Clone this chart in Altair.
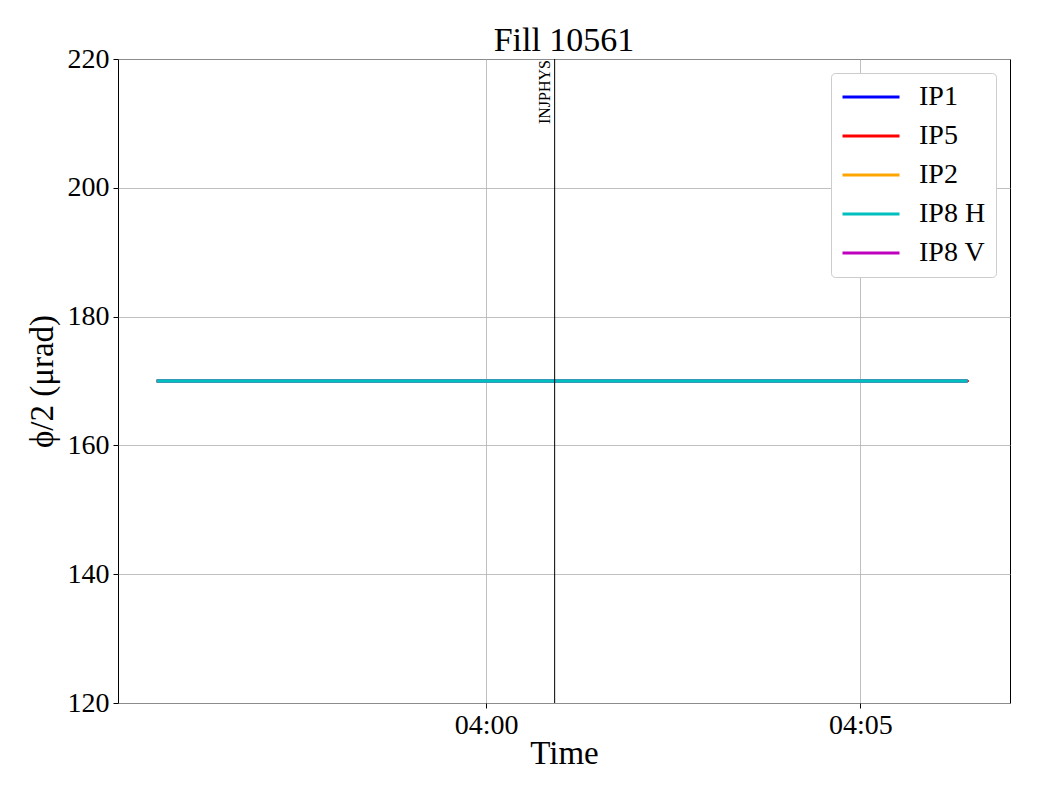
import altair as alt
import pandas as pd

series = ["IP1", "IP5", "IP2", "IP8 H", "IP8 V"]
colors = ["#0000ff", "#ff0000", "#ffa500", "#00bfbf", "#bf00bf"]
widths = [2.1, 2.1, 3.5, 3.5, 3.5]
draw_order = ["IP1", "IP5", "IP2", "IP8 V", "IP8 H"]

start_times = ["2024-01-01T03:55:36", "2024-01-01T03:55:36", "2024-01-01T03:55:36",
               "2024-01-01T03:55:36", "2024-01-01T03:55:36"]
end_times = ["2024-01-01T04:06:26", "2024-01-01T04:06:27", "2024-01-01T04:06:26",
             "2024-01-01T04:06:26", "2024-01-01T04:06:26"]
values = [170.0, 170.0, 170.0, 170.0, 170.0]

event_time = ["2024-01-01T04:00:55"]
event_label = ["INJPHYS"]

rows = []
for s, t0, t1, v in zip(series, start_times, end_times, values):
    rows.append({"series": s, "time": t0, "value": v})
    rows.append({"series": s, "time": t1, "value": v})
df = pd.DataFrame(rows)
ev = pd.DataFrame({"time": event_time, "label": event_label})
width_of = dict(zip(series, widths))

FONT = "Liberation Serif"

xscale = alt.Scale(domain=[alt.DateTime(year=2024, month=1, date=1, hours=3, minutes=55, seconds=5),
                           alt.DateTime(year=2024, month=1, date=1, hours=4, minutes=7, seconds=0)])
xaxis = alt.Axis(title="Time", format="%H:%M",
                 values=[alt.DateTime(year=2024, month=1, date=1, hours=4, minutes=0),
                         alt.DateTime(year=2024, month=1, date=1, hours=4, minutes=5)],
                 labelFontSize=28, titleFontSize=33, titlePadding=-2, labelPadding=3,
                 tickSize=5, grid=True)
yscale = alt.Scale(domain=[120, 220], nice=False, zero=False)
yaxis = alt.Axis(title="ϕ/2 (μrad)", values=[120, 140, 160, 180, 200, 220],
                 labelFontSize=28, titleFontSize=33, titlePadding=8, labelPadding=4,
                 tickSize=5, grid=True)

color = alt.Color("series:N", scale=alt.Scale(domain=series, range=colors),
                  legend=alt.Legend(title=None, orient="none", legendX=713, legendY=14,
                                    labelFontSize=28, labelFont=FONT,
                                    symbolType="stroke", symbolSize=3249,
                                    symbolStrokeWidth=3, labelOffset=18,
                                    clipHeight=28, rowPadding=11, padding=10,
                                    cornerRadius=4, strokeColor="#cccccc",
                                    fillColor="white", labelLimit=200))

layers = []
for s in draw_order:
    layers.append(
        alt.Chart(df).transform_filter(alt.datum.series == s)
        .mark_line(strokeWidth=width_of[s]).encode(
            x=alt.X("time:T", scale=xscale, axis=xaxis),
            y=alt.Y("value:Q", scale=yscale, axis=yaxis),
            color=color,
        )
    )

rule = alt.Chart(ev).mark_rule(color="black", strokeWidth=1).encode(
    x=alt.X("time:T", scale=xscale)
)
label = alt.Chart(ev).mark_text(angle=270, align="right", baseline="bottom",
                                fontSize=16, font=FONT, dx=-1, dy=-2, color="black").encode(
    x=alt.X("time:T", scale=xscale),
    y=alt.value(0),
    text="label:N",
)

chart = alt.layer(*layers, rule, label).properties(
    width=892, height=644,
    title=alt.Title("Fill 10561", fontSize=34, font=FONT, fontWeight="normal", offset=5,
                    dy=18, anchor="middle", color="black"),
    autosize=alt.AutoSizeParams(type="none"),
    padding={"left": 110, "top": 51, "right": 22, "bottom": 90},
).configure(font=FONT).configure_view(stroke="black", strokeWidth=1).configure_axis(
    gridColor="#b0b0b0", gridWidth=0.8, domainColor="black", tickColor="black",
    labelColor="black", titleColor="black", labelFont=FONT, titleFont=FONT,
    titleFontWeight="normal", domain=False
)

chart.save("out.html", embed_options={"renderer": "svg", "actions": False})
